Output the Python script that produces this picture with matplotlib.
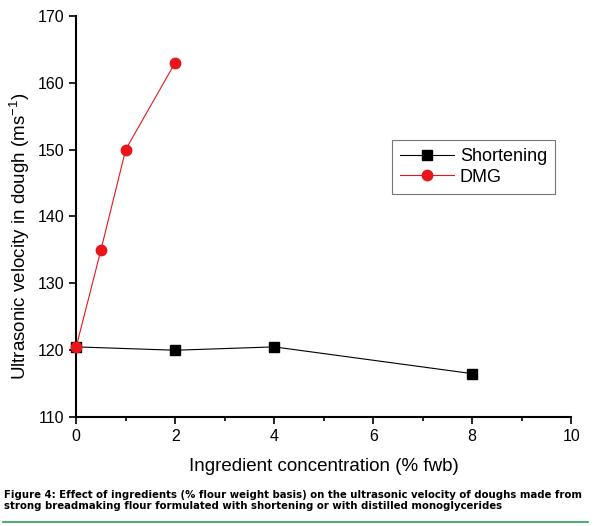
import matplotlib
matplotlib.use("Agg")
import matplotlib.pyplot as plt
from matplotlib.ticker import MultipleLocator

plt.rcParams['font.family'] = ['Liberation Sans', 'DejaVu Sans']

short_x = [0, 2, 4, 8]
short_y = [120.5, 120.0, 120.5, 116.5]
dmg_x = [0, 0.5, 1, 2]
dmg_y = [120.5, 135.0, 150.0, 163.0]

caption = ("Figure 4: Effect of ingredients (% flour weight basis) on the ultrasonic velocity of doughs made from\n"
           "strong breadmaking flour formulated with shortening or with distilled monoglycerides")

fig = plt.figure(figsize=(6, 5.26), dpi=100)
ax = fig.add_axes([0.127, 0.207, 0.825, 0.763])

ax.plot(short_x, short_y, color='black', lw=0.8, marker='s', ms=6.5, label='Shortening', clip_on=False, zorder=3)
ax.plot(dmg_x, dmg_y, color='#e8161b', lw=0.8, marker='o', ms=7.5, label='DMG', clip_on=False, zorder=4)

ax.set_xlim(0, 10)
ax.set_ylim(110, 170)
ax.xaxis.set_major_locator(MultipleLocator(2))
ax.xaxis.set_minor_locator(MultipleLocator(1))
ax.yaxis.set_major_locator(MultipleLocator(10))
ax.spines['top'].set_visible(False)
ax.spines['right'].set_visible(False)
ax.spines['left'].set_linewidth(1.5)
ax.spines['bottom'].set_linewidth(1.5)
ax.tick_params(which='major', length=5, width=1.2, labelsize=11.5)
ax.tick_params(which='minor', length=3, width=1.2)

ax.set_xlabel('Ingredient concentration (% fwb)', fontsize=13.5, labelpad=10)
ax.set_ylabel('Ultrasonic velocity in dough (ms$^{\\mathregular{-1}}$)', fontsize=13.5, labelpad=4)
ax.yaxis.set_label_coords(-0.09, 0.45)

leg = ax.legend(loc='upper left', bbox_to_anchor=(0.638, 0.691), borderaxespad=0, fontsize=13,
                frameon=True, fancybox=False, edgecolor='#555555',
                handlelength=3.0, handletextpad=0.3, borderpad=0.45, labelspacing=0.2)
leg.get_frame().set_linewidth(0.8)

fig.text(0.007, 0.028, caption, fontsize=8.1, fontweight='bold', family='DejaVu Sans',
         fontstretch='condensed', ha='left', va='bottom', linespacing=1.2)
fig.add_artist(plt.Line2D([0.005, 0.98], [0.008, 0.008], color='#2e9e5a', lw=1.2))

fig.savefig('out.png', dpi=100)
